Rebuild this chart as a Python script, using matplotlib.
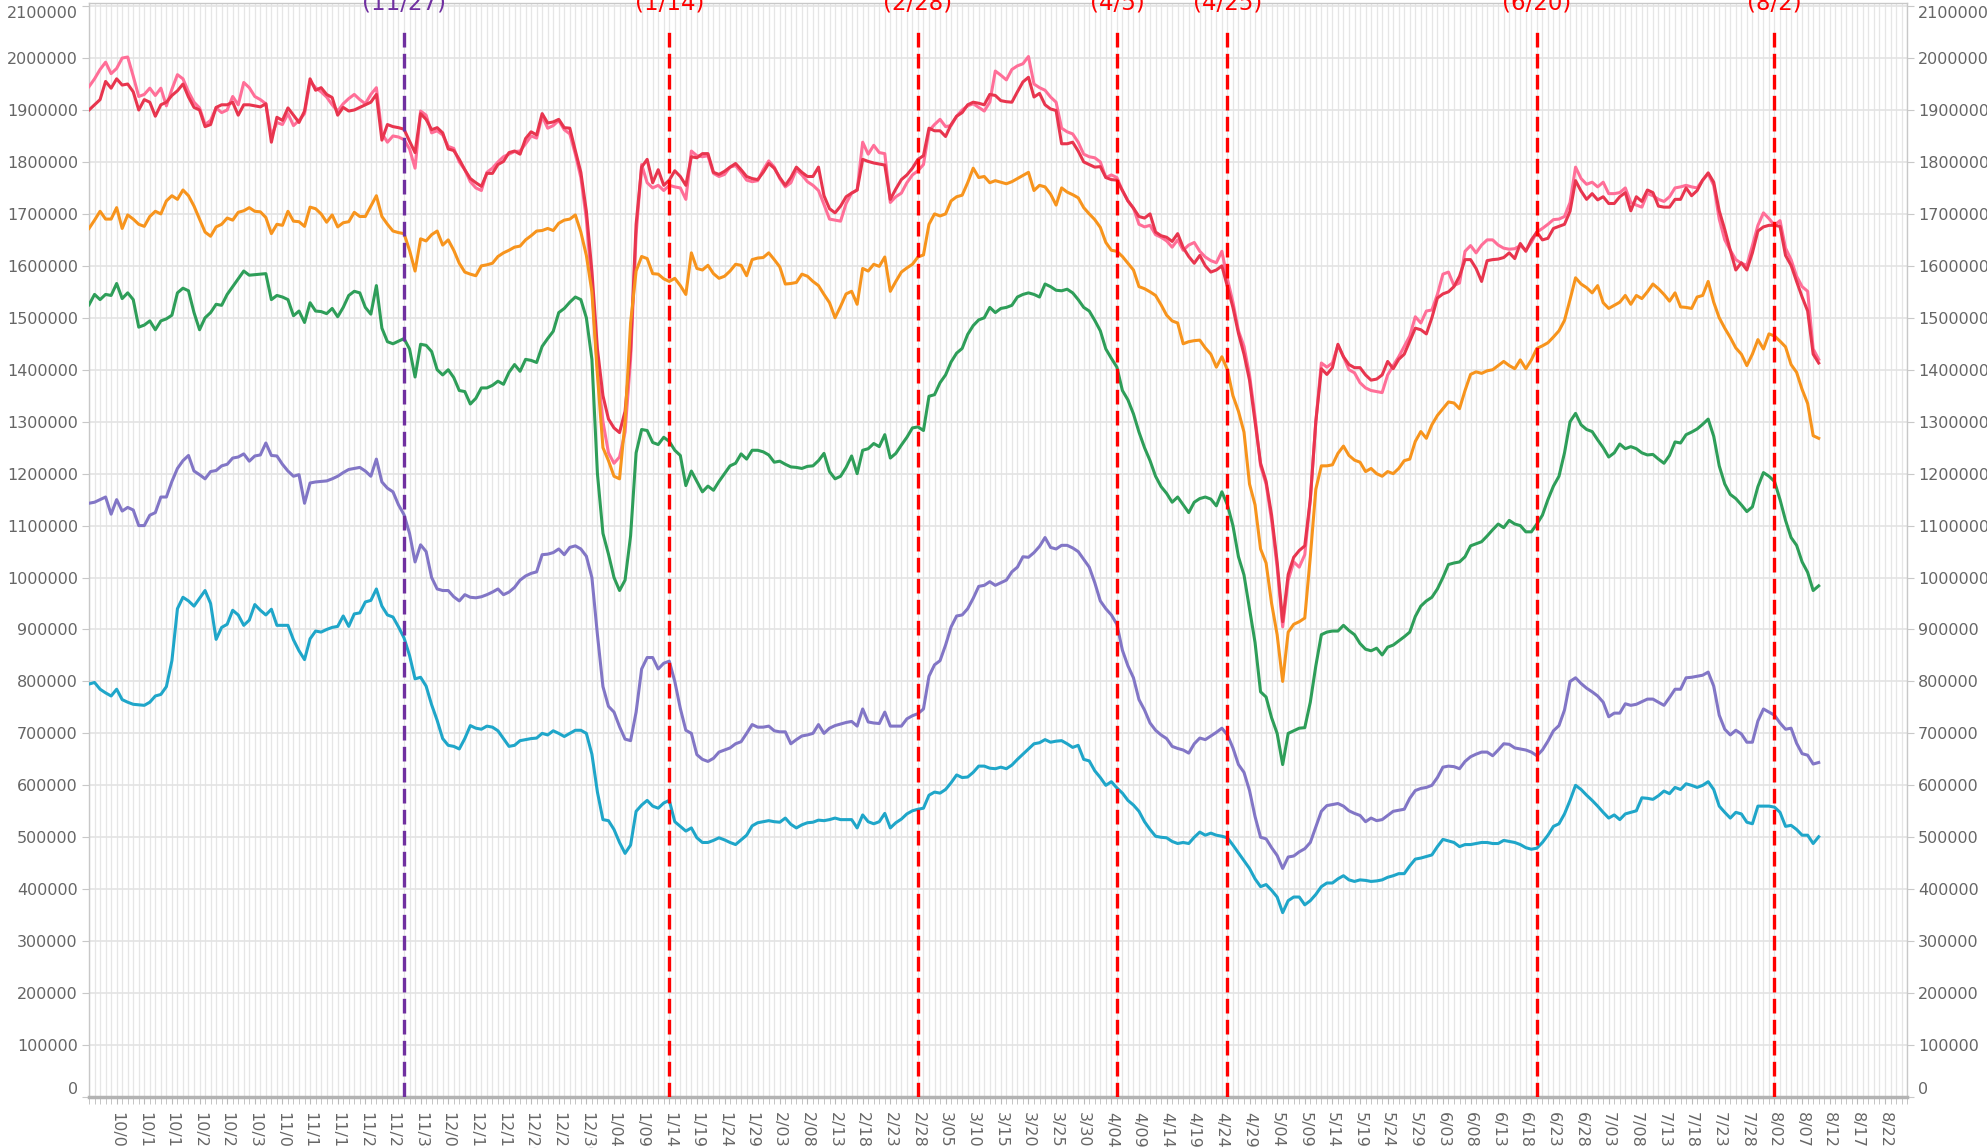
import numpy as np
import pandas as pd
import matplotlib
matplotlib.use("Agg")
import matplotlib.pyplot as plt

# one category per day, 10/01 .. 8/26
days = pd.date_range("2020-10-01", "2021-08-26", freq="D")
day_labels = [f"{d.month}/{d.day:02d}" for d in days]

# daily values (thousands), starting 10/01
pink = [
    1945, 1960, 1978, 1992, 1970, 1980, 2000, 2002, 1965, 1926,
    1930, 1942, 1928, 1942, 1908, 1940, 1968, 1960, 1935, 1915,
    1904, 1872, 1880, 1904, 1895, 1900, 1926, 1910, 1953, 1943,
    1926, 1920, 1912, 1850, 1876, 1872, 1893, 1870, 1880, 1893,
    1955, 1943, 1935, 1925, 1910, 1898, 1912, 1922, 1930, 1920,
    1912, 1930, 1943, 1855, 1838, 1850, 1848, 1843, 1825, 1788,
    1898, 1890, 1856, 1860, 1852, 1830, 1826, 1800, 1785, 1762,
    1750, 1745, 1780, 1788, 1800, 1810, 1815, 1820, 1821, 1835,
    1850, 1846, 1888, 1865, 1870, 1880, 1862, 1854, 1815, 1770,
    1690, 1560, 1400, 1300, 1240, 1220, 1232, 1280, 1420, 1660,
    1795, 1760, 1750, 1755, 1745, 1755, 1752, 1750, 1728, 1821,
    1812, 1810, 1812, 1778, 1772, 1776, 1790, 1793, 1780, 1765,
    1762, 1764, 1785, 1802, 1790, 1768, 1752, 1760, 1785, 1775,
    1762, 1755, 1745, 1718, 1690, 1688, 1686, 1720, 1740, 1746,
    1838, 1815, 1832, 1818, 1816, 1722, 1733, 1740, 1760, 1775,
    1783, 1795, 1860, 1872, 1882, 1868, 1870, 1888, 1900, 1908,
    1912, 1905, 1898, 1915, 1975, 1967, 1958, 1978, 1985, 1989,
    2003, 1950, 1943, 1938, 1925, 1915, 1865, 1858, 1854, 1838,
    1815, 1810, 1808, 1800, 1770, 1775, 1770, 1745, 1725, 1711,
    1680, 1675, 1678, 1660, 1655, 1648, 1636, 1650, 1630, 1640,
    1645, 1628, 1617, 1610, 1606, 1628, 1575, 1530, 1475, 1445,
    1390, 1310, 1215, 1180, 1110, 1020, 905, 995, 1030, 1020,
    1044, 1150, 1300, 1413, 1405, 1413, 1447, 1425, 1400, 1394,
    1375, 1365, 1360, 1358, 1356, 1390, 1408, 1425, 1445, 1465,
    1502, 1490, 1513, 1515, 1545, 1584, 1588, 1562, 1567, 1628,
    1639, 1625, 1640, 1650, 1650, 1640, 1634, 1632, 1633, 1639,
    1630, 1645, 1665, 1672, 1680, 1689, 1690, 1695, 1722, 1790,
    1768, 1757, 1761, 1752, 1761, 1739, 1739, 1741, 1750, 1722,
    1717, 1713, 1739, 1735, 1728, 1724, 1733, 1750, 1752, 1755,
    1752, 1750, 1765, 1777, 1755, 1690, 1650, 1630, 1612, 1605,
    1601, 1639, 1678, 1702, 1691, 1678, 1687, 1634, 1612, 1580,
    1560, 1551, 1440, 1420,
]
red = [
    1900, 1910, 1920, 1955, 1942, 1960, 1948, 1950, 1935, 1900,
    1920, 1915, 1888, 1910, 1915, 1928, 1937, 1950, 1925, 1905,
    1900, 1868, 1872, 1905, 1910, 1910, 1915, 1890, 1910, 1910,
    1908, 1906, 1912, 1838, 1886, 1880, 1904, 1890, 1876, 1898,
    1960, 1938, 1943, 1930, 1924, 1890, 1905, 1898, 1900, 1905,
    1910, 1915, 1930, 1842, 1872, 1868, 1866, 1863, 1840, 1818,
    1893, 1882, 1862, 1866, 1856, 1825, 1822, 1805, 1785, 1768,
    1760, 1753, 1778, 1778, 1795, 1801, 1818, 1821, 1815, 1845,
    1858, 1852, 1893, 1875, 1877, 1882, 1866, 1865, 1822, 1780,
    1705, 1590, 1440, 1350, 1305, 1288, 1279, 1320, 1436, 1680,
    1790, 1805, 1760, 1785, 1755, 1765, 1783, 1772, 1755, 1810,
    1808, 1816, 1816, 1780, 1776, 1782, 1790, 1797, 1785, 1772,
    1768, 1766, 1780, 1797, 1788, 1770, 1755, 1770, 1790, 1780,
    1772, 1772, 1790, 1735, 1710, 1702, 1715, 1733, 1740, 1746,
    1805, 1801, 1798, 1796, 1794, 1728, 1748, 1766, 1775, 1788,
    1805, 1812, 1865, 1860, 1860, 1849, 1872, 1888, 1895, 1910,
    1915, 1913, 1910, 1930, 1928, 1918, 1916, 1915, 1935, 1954,
    1963, 1925, 1932, 1910, 1902, 1899, 1835, 1835, 1838, 1821,
    1800, 1795, 1790, 1791, 1770, 1766, 1765, 1745, 1725, 1711,
    1695, 1692, 1700, 1665, 1658, 1655, 1647, 1662, 1635, 1618,
    1605, 1620, 1600, 1588, 1592, 1600, 1560, 1520, 1470, 1430,
    1380, 1300, 1220, 1185, 1120, 1030, 915, 1006, 1039, 1052,
    1061, 1150, 1300, 1402, 1391, 1404, 1449, 1425, 1410, 1404,
    1404, 1390, 1380, 1382, 1390, 1416, 1402, 1420, 1430, 1455,
    1480, 1477, 1469, 1500, 1538, 1546, 1550, 1560, 1580, 1612,
    1612, 1595, 1570, 1610, 1612, 1613, 1616, 1625, 1614, 1643,
    1628, 1650, 1665, 1650, 1653, 1672, 1676, 1680, 1705, 1764,
    1744, 1728, 1739, 1727, 1733, 1720, 1720, 1733, 1741, 1706,
    1733, 1724, 1746, 1741, 1715, 1713, 1713, 1728, 1728, 1750,
    1735, 1745, 1765, 1779, 1761, 1706, 1670, 1630, 1592, 1606,
    1592, 1625, 1667, 1675, 1678, 1678, 1676, 1620, 1601, 1570,
    1540, 1513, 1430, 1413,
]
orange = [
    1672, 1688, 1705, 1690, 1690, 1712, 1672, 1698, 1690, 1680,
    1676, 1695, 1705, 1700, 1725, 1735, 1728, 1746, 1735, 1715,
    1690, 1665, 1657, 1675, 1680, 1692, 1688, 1703, 1706, 1712,
    1705, 1704, 1693, 1662, 1680, 1678, 1705, 1686, 1685, 1676,
    1713, 1710, 1700, 1684, 1698, 1675, 1683, 1685, 1703, 1695,
    1695, 1715, 1735, 1695, 1680, 1667, 1664, 1662, 1630, 1590,
    1652, 1648, 1660, 1667, 1640, 1650, 1630, 1605, 1588, 1584,
    1581, 1600, 1602, 1605, 1618, 1625, 1630, 1636, 1638, 1650,
    1658, 1667, 1668, 1672, 1668, 1682, 1688, 1690, 1698, 1665,
    1620, 1550, 1390, 1250, 1225, 1195, 1190, 1300, 1490, 1590,
    1618, 1614, 1585, 1584, 1575, 1570, 1576, 1562, 1545, 1625,
    1595, 1592, 1601, 1585, 1576, 1580, 1590, 1603, 1601, 1581,
    1612, 1615, 1616, 1625, 1612, 1598, 1565, 1566, 1568, 1584,
    1580, 1570, 1562, 1545, 1529, 1500, 1522, 1546, 1551, 1526,
    1595, 1590, 1603, 1599, 1617, 1551, 1570, 1588, 1596, 1603,
    1617, 1621, 1680, 1700, 1696, 1700, 1725, 1733, 1736, 1760,
    1788, 1770, 1772, 1760, 1764, 1761, 1758, 1762, 1768, 1774,
    1780, 1745, 1755, 1752, 1738, 1717, 1750, 1742, 1737, 1731,
    1712, 1700, 1689, 1674, 1645, 1630, 1628, 1618, 1605, 1592,
    1560, 1556, 1550, 1543, 1525, 1505, 1494, 1490, 1450, 1454,
    1456, 1457, 1442, 1430, 1405, 1425, 1400, 1350, 1320, 1280,
    1180, 1140, 1055, 1028, 950, 890, 800, 895, 910, 915,
    922, 1040, 1170, 1215, 1215, 1217, 1239, 1253, 1235, 1226,
    1222, 1204, 1210, 1200, 1195, 1204, 1200, 1210, 1225, 1228,
    1262, 1281, 1268, 1294, 1312, 1325, 1338, 1336, 1325, 1360,
    1391, 1396, 1393, 1398, 1400, 1408, 1416, 1408, 1402, 1419,
    1402, 1419, 1441, 1446, 1452, 1463, 1475, 1495, 1535, 1577,
    1565, 1558, 1548, 1562, 1529, 1518, 1524, 1530, 1543, 1526,
    1543, 1537, 1550, 1565, 1556, 1545, 1532, 1548, 1521, 1520,
    1518, 1540, 1543, 1570, 1530, 1500, 1480, 1462, 1442, 1430,
    1408, 1430, 1458, 1440, 1469, 1465, 1455, 1444, 1410, 1395,
    1362, 1335, 1273, 1268,
]
green = [
    1525, 1545, 1535, 1545, 1543, 1566, 1537, 1548, 1535, 1482,
    1486, 1494, 1477, 1494, 1498, 1505, 1548, 1557, 1552, 1510,
    1477, 1500, 1510, 1526, 1524, 1545, 1560, 1575, 1590, 1582,
    1583, 1584, 1585, 1535, 1543, 1540, 1535, 1504, 1513, 1491,
    1529, 1513, 1512, 1508, 1518, 1502, 1520, 1543, 1551, 1548,
    1520, 1507, 1562, 1480, 1454, 1450, 1455, 1460, 1440, 1386,
    1449, 1447, 1435, 1400, 1390, 1400, 1385, 1360, 1358, 1334,
    1345, 1365, 1365, 1370, 1378, 1372, 1395, 1410, 1397, 1420,
    1418, 1414, 1445, 1460, 1474, 1510, 1518, 1530, 1540, 1535,
    1500, 1420, 1200, 1085, 1045, 1000, 975, 995, 1080, 1240,
    1285, 1283, 1260, 1256, 1270, 1262, 1245, 1235, 1177, 1205,
    1185, 1165, 1176, 1168, 1185, 1200, 1215, 1220, 1238, 1228,
    1245, 1245, 1242, 1236, 1222, 1224, 1218, 1213, 1212, 1210,
    1214, 1215, 1225, 1239, 1204, 1190, 1195, 1212, 1234, 1200,
    1245, 1248, 1258, 1252, 1275, 1230, 1239, 1255, 1270, 1288,
    1290, 1283, 1349, 1352, 1375, 1390, 1415, 1432, 1441, 1468,
    1485, 1496, 1500, 1520, 1510, 1518, 1520, 1524, 1540, 1545,
    1548, 1545, 1540, 1565, 1560, 1553, 1552, 1555, 1548, 1535,
    1520, 1513, 1495, 1475, 1440, 1422, 1405, 1360, 1342, 1315,
    1280, 1250, 1225, 1195, 1175, 1162, 1145, 1155, 1140, 1125,
    1145, 1152, 1155, 1151, 1138, 1165, 1140, 1100, 1040, 1005,
    940, 875, 780, 770, 730, 700, 640, 700, 705, 710,
    711, 760, 830, 890, 895, 897, 897, 908, 898, 890,
    873, 862, 859, 864, 851, 866, 870, 878, 886, 895,
    925, 945, 955, 962, 978, 1000, 1025, 1028, 1030, 1040,
    1061, 1065, 1069, 1080, 1092, 1103, 1096, 1110, 1103, 1100,
    1088, 1088, 1103, 1120, 1150, 1176, 1195, 1240, 1300, 1316,
    1294, 1285, 1281, 1265, 1250, 1232, 1240, 1257, 1248, 1252,
    1248, 1240, 1236, 1237, 1228, 1220, 1235, 1261, 1259, 1275,
    1280, 1286, 1295, 1305, 1272, 1215, 1180, 1160, 1152, 1140,
    1127, 1136, 1175, 1202, 1195, 1185, 1150, 1110, 1077, 1062,
    1030, 1010, 975, 984,
]
purple = [
    1143, 1145, 1150, 1155, 1122, 1150, 1128, 1135, 1130, 1100,
    1100, 1120, 1125, 1155, 1155, 1185, 1210, 1225, 1235, 1205,
    1198, 1190, 1204, 1206, 1215, 1218, 1230, 1232, 1238, 1224,
    1234, 1236, 1259, 1235, 1234, 1218, 1205, 1195, 1198, 1143,
    1182, 1184, 1185, 1186, 1190, 1195, 1202, 1208, 1210, 1212,
    1205, 1195, 1228, 1184, 1172, 1165, 1140, 1121, 1085, 1030,
    1063, 1050, 1000, 978, 975, 975, 963, 955, 967, 962,
    961, 963, 967, 972, 978, 967, 972, 981, 995, 1003,
    1008, 1011, 1044, 1045, 1048, 1055, 1044, 1058, 1061, 1055,
    1041, 1000, 890, 790, 752, 741, 713, 689, 686, 741,
    824, 846, 846, 824, 835, 839, 800, 748, 706, 700,
    659, 650, 646, 652, 664, 668, 672, 680, 684, 700,
    717, 712, 712, 714, 705, 703, 703, 680, 688, 695,
    697, 700, 717, 700, 710, 715, 718, 721, 723, 714,
    747, 722, 720, 719, 741, 714, 714, 714, 728, 734,
    738, 747, 810, 832, 840, 870, 905, 926, 928, 940,
    960, 983, 985, 992, 985, 990, 995, 1011, 1020, 1040,
    1039, 1048, 1060, 1077, 1058, 1055, 1062, 1062, 1057, 1050,
    1035, 1020, 990, 955, 940, 928, 910, 860, 830, 807,
    765, 745, 720, 706, 697, 690, 675, 671, 668, 662,
    680, 691, 688, 695, 702, 710, 697, 672, 640, 625,
    590, 540, 500, 497, 480, 465, 440, 462, 464, 472,
    478, 490, 520, 550, 561, 563, 565, 560, 551, 546,
    542, 530, 537, 532, 534, 542, 550, 552, 554, 575,
    590, 594, 596, 600, 615, 635, 637, 636, 632, 646,
    655, 660, 664, 664, 657, 668, 680, 679, 672, 670,
    668, 664, 657, 668, 685, 705, 715, 745, 800, 807,
    796, 787, 780, 772, 760, 732, 739, 739, 757, 754,
    756, 761, 766, 766, 760, 754, 769, 785, 785, 807,
    808, 810, 812, 818, 791, 735, 708, 697, 706, 699,
    683, 683, 724, 747, 741, 735, 720, 708, 710, 681,
    661, 658, 641, 644,
]
cyan = [
    795, 798, 785, 778, 772, 785, 765, 760, 756, 755,
    754, 760, 772, 775, 790, 840, 940, 962, 955, 945,
    960, 975, 950, 881, 904, 910, 937, 928, 908, 918,
    948, 937, 928, 939, 908, 908, 908, 880, 859, 842,
    882, 897, 895, 900, 904, 906, 926, 906, 930, 932,
    953, 956, 978, 945, 928, 924, 905, 884, 850, 805,
    808, 791, 755, 725, 690, 677, 675, 670, 690, 715,
    710, 708, 714, 712, 705, 690, 675, 677, 686, 688,
    690, 691, 700, 697, 705, 700, 694, 700, 706, 706,
    700, 660, 587, 534, 532, 515, 490, 469, 485, 550,
    562, 571, 560, 556, 566, 571, 530, 521, 512, 518,
    499, 490, 490, 494, 499, 495, 490, 486, 495, 504,
    522, 528, 530, 532, 530, 529, 537, 525, 518, 524,
    528, 529, 533, 532, 534, 537, 534, 534, 534, 518,
    543, 530, 526, 530, 546, 518, 528, 535, 545, 551,
    554, 556, 581, 587, 585, 592, 605, 620, 615, 616,
    625, 637, 637, 633, 632, 635, 632, 639, 650, 660,
    670, 680, 682, 688, 683, 685, 686, 680, 673, 677,
    650, 647, 628, 615, 600, 607, 595, 585, 571, 562,
    550, 530, 515, 502, 500, 499, 492, 488, 490, 488,
    500, 510, 504, 508, 504, 502, 499, 485, 470, 455,
    440, 420, 405, 409, 398, 385, 355, 378, 385, 385,
    370, 378, 390, 405, 412, 412, 420, 426, 418, 415,
    418, 417, 415, 416, 418, 423, 426, 430, 430, 445,
    458, 460, 463, 466, 482, 496, 493, 490, 482, 486,
    486, 488, 490, 490, 488, 488, 494, 492, 490, 486,
    480, 477, 479, 490, 504, 521, 526, 545, 571, 600,
    592, 581, 571, 560, 548, 537, 543, 534, 545, 548,
    551, 576, 575, 573, 580, 589, 584, 596, 592, 603,
    600, 596, 600, 607, 592, 560, 548, 537, 548, 545,
    529, 526, 560, 560, 560, 558, 548, 521, 523, 515,
    504, 504, 488, 501,
]

series = [pink, red, orange, green, purple, cyan]
colors = ["#ff6f98", "#e8354e", "#f7941d", "#2e9e59", "#8276c6", "#1fa6c9"]

event_days = ["2020-11-27", "2021-01-14", "2021-02-28", "2021-04-05",
              "2021-04-25", "2021-06-20", "2021-08-02"]
event_text = ["(11/27)", "(1/14)", "(2/28)", "(4/5)", "(4/25)", "(6/20)", "(8/2)"]
event_colors = ["#7030a0", "#ff0000", "#ff0000", "#ff0000", "#ff0000", "#ff0000", "#ff0000"]

fig = plt.figure(figsize=(19.87, 11.48), dpi=100)
ax = fig.add_axes([0.0448, 0.0444, 0.915, 0.953])

x = np.arange(len(days))
for vals, col in zip(series, colors):
    v = np.array(vals) * 1000
    ax.plot(x[:len(v)], v, color=col, lw=2.2, zorder=3, solid_joinstyle="round")

for d, txt, col in zip(event_days, event_text, event_colors):
    i = days.get_loc(pd.Timestamp(d))
    ax.plot([i, i], [0, 2058000], color=col, lw=2.4, ls=(0, (4.4, 1.9)), zorder=4)
    # label sits at the very top, partly cut by the figure edge
    ax.text(i, 2093000, txt, ha="center", va="baseline", color=col,
            fontsize=16.5, clip_on=False)

ax.set_xlim(0, len(days) - 1)
ax.set_ylim(0, 2106000)

yt = np.arange(0, 2100001, 100000)
ax.set_yticks(yt, [str(v) for v in yt])
ax.set_xticks(x, minor=True)
ax.set_xticks(x[5::5], [day_labels[i] for i in x[5::5]], rotation=-90)

ax.grid(True, axis="y", color="#e3e3e3", lw=1.2, zorder=0)
ax.grid(True, axis="x", which="both", color="#e6e6e6", lw=0.9, zorder=0)
ax.set_axisbelow(True)

ax.tick_params(axis="y", left=True, right=True, labelleft=True, labelright=True,
               length=5, color="#c8c8c8", labelcolor="#666666", labelsize=11.5, pad=3)
ax.tick_params(axis="x", which="both", length=5, color="#bbbbbb",
               labelcolor="#666666", labelsize=11.5, pad=6)

for t in ax.yaxis.get_major_ticks()[:1]:
    t.label1.set_va("bottom")
    t.label2.set_va("bottom")
for t in ax.yaxis.get_major_ticks()[-1:]:
    t.label1.set_va("top")
    t.label2.set_va("top")

for s in ax.spines.values():
    s.set_color("#c8c8c8")
    s.set_linewidth(1)
ax.spines["bottom"].set_color("#b3b3b3")
ax.spines["bottom"].set_linewidth(2.5)

fig.savefig("out.png", dpi=100)
